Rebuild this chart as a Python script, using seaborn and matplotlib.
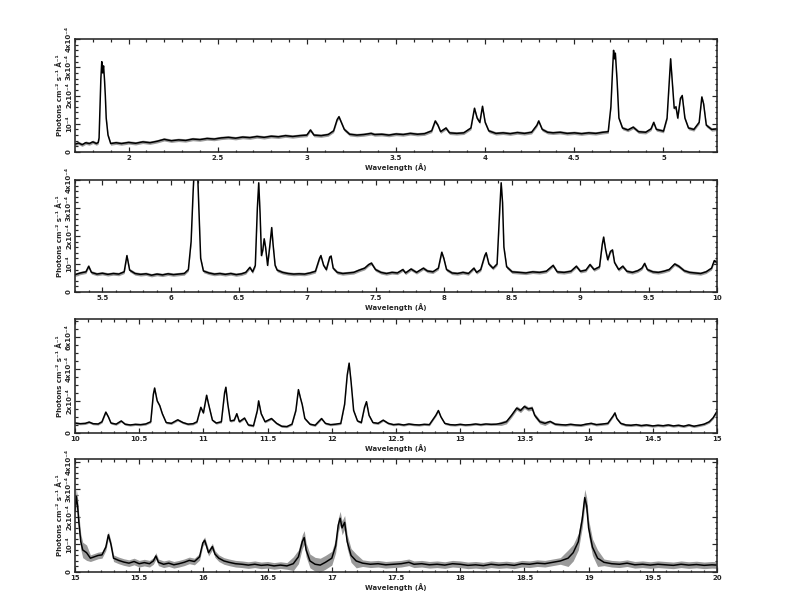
import numpy as np
import pandas as pd
import matplotlib
matplotlib.use('Agg')
import matplotlib.pyplot as plt
from matplotlib.ticker import MultipleLocator, FixedLocator
import seaborn as sns

# flux values in units of 1e-4 photons cm^-2 s^-1 A^-1
SPEC1 = [
    (1.70, 0.28), (1.72, 0.32), (1.74, 0.26), (1.76, 0.33), (1.78, 0.30), (1.80, 0.36),
    (1.82, 0.30), (1.83, 0.34), (1.835, 0.5), (1.84, 1.5), (1.845, 2.6), (1.85, 3.2),
    (1.855, 2.8), (1.86, 3.05), (1.865, 2.6), (1.87, 2.0), (1.875, 1.2), (1.885, 0.6),
    (1.895, 0.40), (1.90, 0.30),
    (1.93, 0.33), (1.96, 0.30), (2.00, 0.34), (2.04, 0.31), (2.08, 0.36), (2.12, 0.33),
    (2.16, 0.38), (2.20, 0.45), (2.24, 0.40), (2.28, 0.43), (2.32, 0.41), (2.36, 0.46),
    (2.40, 0.44), (2.44, 0.48), (2.48, 0.46), (2.52, 0.50), (2.56, 0.52), (2.60, 0.49),
    (2.64, 0.53), (2.68, 0.51), (2.72, 0.55), (2.76, 0.52), (2.80, 0.56), (2.84, 0.54),
    (2.88, 0.58), (2.92, 0.55), (2.96, 0.58), (3.00, 0.60), (3.02, 0.78), (3.04, 0.60),
    (3.08, 0.58), (3.12, 0.62), (3.15, 0.75), (3.17, 1.15), (3.18, 1.25), (3.19, 1.10),
    (3.21, 0.80), (3.24, 0.63), (3.28, 0.60), (3.32, 0.62), (3.36, 0.66), (3.38, 0.62),
    (3.42, 0.63), (3.46, 0.60), (3.50, 0.64), (3.54, 0.62), (3.58, 0.66), (3.62, 0.63),
    (3.66, 0.65), (3.70, 0.75), (3.72, 1.10), (3.735, 0.95), (3.75, 0.72), (3.78, 0.85),
    (3.80, 0.68), (3.84, 0.66), (3.88, 0.68), (3.92, 0.85), (3.94, 1.55), (3.955, 1.20),
    (3.97, 1.05), (3.985, 1.62), (4.00, 1.05), (4.02, 0.75), (4.06, 0.66), (4.10, 0.68),
    (4.14, 0.65), (4.18, 0.69), (4.22, 0.66), (4.26, 0.70), (4.29, 0.95), (4.30, 1.10),
    (4.32, 0.80), (4.35, 0.70), (4.38, 0.68), (4.42, 0.70), (4.46, 0.66), (4.50, 0.68),
    (4.54, 0.65), (4.58, 0.68), (4.62, 0.66), (4.66, 0.70), (4.69, 0.72), (4.705, 1.6),
    (4.715, 3.0), (4.72, 3.6), (4.725, 3.3), (4.73, 3.5), (4.74, 2.5), (4.75, 1.2),
    (4.77, 0.85), (4.80, 0.78), (4.83, 0.88), (4.86, 0.72), (4.90, 0.70), (4.93, 0.82),
    (4.945, 1.05), (4.96, 0.80), (5.00, 0.74), (5.02, 1.20), (5.035, 2.8), (5.04, 3.3),
    (5.05, 2.4), (5.06, 1.55), (5.07, 1.6), (5.08, 1.2), (5.095, 1.9), (5.105, 2.0),
    (5.12, 1.2), (5.14, 0.85), (5.17, 0.80), (5.20, 1.05), (5.215, 1.95), (5.225, 1.70),
    (5.24, 0.95), (5.27, 0.80), (5.30, 0.82),
]

SPEC2 = [
    (5.30, 0.62), (5.34, 0.68), (5.38, 0.72), (5.40, 0.92), (5.42, 0.70), (5.46, 0.64),
    (5.50, 0.67), (5.54, 0.63), (5.58, 0.66), (5.62, 0.64), (5.66, 0.72), (5.68, 1.30),
    (5.70, 0.78), (5.74, 0.66), (5.78, 0.63), (5.82, 0.65), (5.86, 0.60), (5.90, 0.64),
    (5.94, 0.61), (5.98, 0.65), (6.02, 0.62), (6.06, 0.64), (6.10, 0.66), (6.13, 0.80),
    (6.15, 1.8), (6.165, 3.6), (6.175, 4.6), (6.185, 4.3), (6.195, 4.6), (6.205, 3.2),
    (6.22, 1.2), (6.24, 0.75), (6.28, 0.68), (6.32, 0.64), (6.36, 0.66), (6.40, 0.63),
    (6.44, 0.66), (6.48, 0.62), (6.52, 0.65), (6.55, 0.70), (6.58, 0.88), (6.60, 0.72),
    (6.62, 0.95), (6.635, 3.0), (6.645, 3.9), (6.655, 2.8), (6.665, 1.3), (6.675, 1.5),
    (6.685, 1.9), (6.695, 1.6), (6.71, 0.95), (6.725, 1.6), (6.74, 2.3), (6.75, 1.7),
    (6.765, 0.95), (6.78, 0.78), (6.82, 0.70), (6.86, 0.66), (6.90, 0.64), (6.94, 0.65),
    (6.98, 0.64), (7.02, 0.68), (7.06, 0.74), (7.09, 1.20), (7.10, 1.30), (7.12, 0.95),
    (7.14, 0.80), (7.165, 1.25), (7.175, 1.28), (7.19, 0.85), (7.22, 0.70), (7.26, 0.66),
    (7.30, 0.68), (7.34, 0.70), (7.38, 0.78), (7.42, 0.85), (7.45, 0.98), (7.47, 1.03),
    (7.50, 0.80), (7.54, 0.70), (7.58, 0.66), (7.62, 0.70), (7.66, 0.68), (7.70, 0.80),
    (7.72, 0.68), (7.76, 0.82), (7.80, 0.70), (7.85, 0.85), (7.88, 0.75), (7.92, 0.72),
    (7.96, 0.85), (7.985, 1.42), (8.00, 1.20), (8.02, 0.80), (8.06, 0.68), (8.10, 0.66),
    (8.14, 0.70), (8.18, 0.66), (8.22, 0.85), (8.24, 0.70), (8.27, 0.80), (8.30, 1.30),
    (8.31, 1.40), (8.33, 1.0), (8.36, 0.85), (8.39, 1.0), (8.41, 3.0), (8.42, 3.9),
    (8.43, 3.2), (8.44, 1.6), (8.46, 0.90), (8.50, 0.72), (8.55, 0.70), (8.60, 0.68),
    (8.65, 0.72), (8.70, 0.70), (8.75, 0.74), (8.80, 0.95), (8.83, 0.72), (8.88, 0.70),
    (8.93, 0.74), (8.97, 0.92), (9.00, 0.74), (9.04, 0.78), (9.07, 0.98), (9.10, 0.80),
    (9.14, 0.90), (9.16, 1.70), (9.17, 1.96), (9.185, 1.50), (9.20, 1.15), (9.22, 1.45),
    (9.235, 1.50), (9.25, 1.05), (9.28, 0.80), (9.31, 0.92), (9.34, 0.74), (9.38, 0.70),
    (9.42, 0.76), (9.45, 0.85), (9.47, 1.02), (9.49, 0.80), (9.53, 0.72), (9.57, 0.70),
    (9.61, 0.74), (9.65, 0.80), (9.69, 1.00), (9.72, 0.92), (9.76, 0.76), (9.80, 0.70),
    (9.84, 0.68), (9.88, 0.66), (9.92, 0.72), (9.96, 0.85), (9.98, 1.12), (10.0, 1.05),
]

SPEC3 = [
    (10.00, 0.62), (10.04, 0.58), (10.08, 0.60), (10.11, 0.68), (10.14, 0.58), (10.18, 0.56),
    (10.21, 0.70), (10.24, 1.30), (10.26, 1.00), (10.28, 0.62), (10.32, 0.55), (10.36, 0.75),
    (10.39, 0.55), (10.43, 0.50), (10.47, 0.54), (10.51, 0.52), (10.55, 0.56), (10.59, 0.70),
    (10.61, 2.40), (10.62, 2.80), (10.64, 2.00), (10.66, 1.70), (10.68, 1.20), (10.71, 0.65),
    (10.75, 0.60), (10.80, 0.82), (10.84, 0.65), (10.88, 0.55), (10.92, 0.58), (10.95, 0.70),
    (10.98, 1.60), (11.00, 1.25), (11.025, 2.35), (11.04, 1.80), (11.07, 0.80), (11.10, 0.62),
    (11.14, 0.70), (11.165, 2.50), (11.175, 2.85), (11.19, 1.80), (11.21, 0.75), (11.24, 0.80),
    (11.26, 1.20), (11.28, 0.70), (11.32, 0.93), (11.35, 0.50), (11.39, 0.45), (11.42, 1.40),
    (11.43, 2.00), (11.45, 1.20), (11.48, 0.70), (11.53, 0.90), (11.57, 0.60), (11.61, 0.42),
    (11.65, 0.40), (11.69, 0.55), (11.72, 1.40), (11.74, 2.70), (11.755, 2.20), (11.77, 1.75),
    (11.79, 0.90), (11.83, 0.55), (11.87, 0.48), (11.92, 0.90), (11.95, 0.60), (11.99, 0.52),
    (12.03, 0.55), (12.07, 0.60), (12.10, 1.80), (12.12, 3.60), (12.135, 4.35), (12.15, 3.20),
    (12.17, 1.40), (12.20, 0.75), (12.23, 0.65), (12.255, 1.60), (12.27, 1.95), (12.29, 1.10),
    (12.32, 0.65), (12.36, 0.60), (12.40, 0.80), (12.44, 0.60), (12.48, 0.52), (12.52, 0.55),
    (12.56, 0.50), (12.60, 0.56), (12.64, 0.52), (12.68, 0.50), (12.72, 0.54), (12.76, 0.52),
    (12.81, 1.10), (12.83, 1.40), (12.85, 1.00), (12.88, 0.60), (12.92, 0.52), (12.96, 0.50),
    (13.00, 0.54), (13.04, 0.50), (13.08, 0.52), (13.12, 0.56), (13.16, 0.52), (13.20, 0.56),
    (13.24, 0.54), (13.28, 0.55), (13.32, 0.60), (13.36, 0.70), (13.40, 1.10), (13.44, 1.55),
    (13.47, 1.40), (13.50, 1.65), (13.53, 1.50), (13.56, 1.55), (13.58, 1.10), (13.62, 0.70),
    (13.66, 0.60), (13.70, 0.72), (13.74, 0.55), (13.78, 0.52), (13.82, 0.50), (13.86, 0.54),
    (13.90, 0.50), (13.94, 0.48), (13.98, 0.55), (14.02, 0.60), (14.06, 0.52), (14.10, 0.55),
    (14.15, 0.60), (14.19, 1.05), (14.205, 1.25), (14.22, 0.90), (14.25, 0.60), (14.29, 0.50),
    (14.33, 0.48), (14.37, 0.52), (14.41, 0.46), (14.45, 0.50), (14.50, 0.44), (14.54, 0.48),
    (14.58, 0.45), (14.62, 0.50), (14.66, 0.44), (14.70, 0.48), (14.74, 0.42), (14.78, 0.50),
    (14.82, 0.42), (14.86, 0.48), (14.90, 0.55), (14.94, 0.70), (14.97, 0.95), (15.00, 1.35),
]

SPEC4 = [
    (15.00, 2.20), (15.01, 2.75), (15.02, 2.40), (15.03, 1.80), (15.045, 1.10), (15.06, 0.80),
    (15.09, 0.70), (15.12, 0.50), (15.15, 0.55), (15.18, 0.60), (15.21, 0.62), (15.24, 0.90),
    (15.26, 1.35), (15.28, 1.00), (15.30, 0.50), (15.34, 0.42), (15.38, 0.36), (15.42, 0.32),
    (15.46, 0.38), (15.50, 0.30), (15.54, 0.34), (15.58, 0.30), (15.61, 0.40), (15.63, 0.58),
    (15.65, 0.35), (15.69, 0.28), (15.73, 0.32), (15.77, 0.26), (15.81, 0.30), (15.85, 0.35),
    (15.89, 0.42), (15.93, 0.38), (15.97, 0.55), (15.995, 1.05), (16.01, 1.15), (16.04, 0.70),
    (16.07, 0.92), (16.09, 0.65), (16.12, 0.50), (16.16, 0.40), (16.20, 0.35), (16.25, 0.30),
    (16.30, 0.28), (16.35, 0.25), (16.40, 0.28), (16.45, 0.24), (16.50, 0.26), (16.55, 0.22),
    (16.60, 0.25), (16.65, 0.22), (16.70, 0.30), (16.74, 0.55), (16.77, 1.10), (16.785, 1.25),
    (16.80, 0.80), (16.83, 0.40), (16.87, 0.28), (16.91, 0.25), (16.95, 0.35), (17.00, 0.50),
    (17.03, 0.95), (17.05, 1.70), (17.065, 1.95), (17.08, 1.60), (17.10, 1.80), (17.12, 1.10),
    (17.15, 0.60), (17.19, 0.40), (17.24, 0.32), (17.30, 0.28), (17.36, 0.30), (17.42, 0.26),
    (17.48, 0.28), (17.54, 0.30), (17.60, 0.35), (17.64, 0.28), (17.70, 0.30), (17.76, 0.26),
    (17.82, 0.28), (17.88, 0.25), (17.94, 0.30), (18.00, 0.28), (18.06, 0.24), (18.12, 0.26),
    (18.18, 0.23), (18.24, 0.28), (18.30, 0.25), (18.36, 0.27), (18.42, 0.24), (18.48, 0.30),
    (18.54, 0.28), (18.60, 0.32), (18.66, 0.30), (18.72, 0.35), (18.78, 0.40), (18.84, 0.50),
    (18.88, 0.70), (18.92, 1.10), (18.95, 1.90), (18.97, 2.70), (18.985, 2.40), (19.00, 1.60),
    (19.03, 0.90), (19.07, 0.50), (19.12, 0.35), (19.18, 0.30), (19.24, 0.28), (19.30, 0.32),
    (19.36, 0.26), (19.42, 0.28), (19.48, 0.25), (19.54, 0.28), (19.60, 0.26), (19.66, 0.24),
    (19.72, 0.28), (19.78, 0.25), (19.84, 0.27), (19.90, 0.24), (19.96, 0.26), (20.00, 0.25),
]

# 1-sigma error, piecewise by wavelength range (same units)
ERR1 = [(1.7, 5.3, 0.06)]
ERR2 = [(5.3, 10.0, 0.06)]
ERR3 = [(10.0, 13.3, 0.07), (13.3, 13.7, 0.13), (13.7, 15.0, 0.08)]
ERR4 = [(15.0, 15.1, 0.28), (15.1, 16.7, 0.12), (16.7, 17.2, 0.25),
        (17.2, 18.8, 0.12), (18.8, 19.1, 0.3), (19.1, 20.0, 0.12)]

XLIMS = [(1.7, 5.3), (5.3, 10.0), (10.0, 15.0), (15.0, 20.0)]
YLIMS = [(0, 4.0), (0, 4.0), (0, 7.1), (0, 4.1)]
YTICKS = [[0, 1, 2, 3, 4], [0, 1, 2, 3, 4], [0, 2, 4, 6], [0, 1, 2, 3, 4]]
YTICKLABELS = [
    ['0', '10⁻⁴', '2x10⁻⁴', '3x10⁻⁴', '4x10⁻⁴'],
    ['0', '10⁻⁴', '2x10⁻⁴', '3x10⁻⁴', '4x10⁻⁴'],
    ['0', '2x10⁻⁴', '4x10⁻⁴', '6x10⁻⁴'],
    ['0', '10⁻⁴', '2x10⁻⁴', '3x10⁻⁴', '4x10⁻⁴'],
]
XLABEL = 'Wavelength (Å)'
YLABEL = 'Photons cm⁻² s⁻¹ Å⁻¹'

sns.set_style('ticks')
plt.rcParams['font.family'] = ['DejaVu Sans']
plt.rcParams['font.weight'] = 'bold'

# axes rectangles [left, bottom, width, height] in figure fraction
RECTS = [
    [0.0947, 0.7516, 0.8106, 0.1846],
    [0.0947, 0.5229, 0.8106, 0.1830],
    [0.0947, 0.2925, 0.8106, 0.1863],
    [0.0947, 0.0654, 0.8106, 0.1846],
]

fig = plt.figure(figsize=(11, 8.5), dpi=72)

panels = [(SPEC1, ERR1), (SPEC2, ERR2), (SPEC3, ERR3), (SPEC4, ERR4)]
for i, (spec, errs) in enumerate(panels):
    df = pd.DataFrame(spec, columns=['wl', 'flux'])
    err = np.zeros(len(df))
    for lo, hi, e in errs:
        err[(df['wl'] >= lo) & (df['wl'] <= hi)] = e

    ax = fig.add_axes(RECTS[i])
    ax.fill_between(df['wl'], df['flux'] - err, df['flux'] + err,
                    color='#9a9a9a', lw=0, zorder=1)
    sns.lineplot(data=df, x='wl', y='flux', color='black', lw=1.5,
                 estimator=None, sort=False, ax=ax, zorder=2)

    ax.set_xlim(*XLIMS[i])
    ax.set_ylim(*YLIMS[i])
    ax.xaxis.set_major_locator(MultipleLocator(0.5))
    ax.xaxis.set_minor_locator(MultipleLocator(0.1))
    ax.yaxis.set_major_locator(FixedLocator(YTICKS[i]))
    ax.yaxis.set_minor_locator(MultipleLocator(0.2 if i != 2 else 0.5))
    ax.set_yticklabels(YTICKLABELS[i], rotation=90, va='center')
    ax.xaxis.set_major_formatter(matplotlib.ticker.FormatStrFormatter('%g'))

    ax.tick_params(which='both', direction='in', top=True, right=True,
                   labelsize=7, width=1.2, pad=3)
    ax.tick_params(which='major', length=5)
    ax.tick_params(which='minor', length=2.5)
    for s in ax.spines.values():
        s.set_linewidth(1.6)

    ax.set_xlabel(XLABEL, fontsize=7, fontweight='bold', labelpad=2)
    ax.set_ylabel(YLABEL, fontsize=7, fontweight='bold', labelpad=3)

fig.savefig('out.png', dpi=72)
